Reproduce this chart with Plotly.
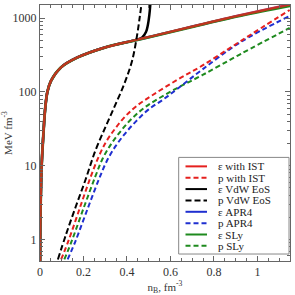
import plotly.graph_objects as go

# ---- data ----
# energy density, with IST / APR4 / SLy (nearly identical)
n_eps = [0.0004, 0.002, 0.0076, 0.016, 0.024, 0.034, 0.05, 0.097, 0.172, 0.298, 0.433, 0.522, 0.701, 0.925, 1.15]
eps_ist = [0.45, 2.0, 9.9, 28, 60, 100, 140, 215, 292, 399, 498, 573, 769, 1097, 1530]
eps_apr4 = [0.45, 2.0, 9.9, 28, 60, 100, 140, 215, 292, 399, 497, 571, 765, 1090, 1510]
eps_sly = [0.45, 2.0, 9.9, 28, 60, 100, 140, 215, 292, 398, 495, 568, 760, 1075, 1460]

# VdW EoS energy density
n_eps_vdw = [0.0004, 0.002, 0.0076, 0.016, 0.024, 0.034, 0.05, 0.097, 0.172, 0.298, 0.433, 0.47, 0.488, 0.496, 0.503, 0.508]
eps_vdw = [0.45, 2.0, 9.9, 28, 60, 100, 140, 215, 292, 399, 498, 545, 650, 800, 1100, 1600]

# pressures
n_p_vdw = [0.0823, 0.1195, 0.1642, 0.2089, 0.2537, 0.2984, 0.3432, 0.3879, 0.4237, 0.4461, 0.4595, 0.4685]
p_vdw = [0.538, 1.17, 2.78, 6.41, 15.7, 32.1, 63.5, 129, 264, 573, 1064, 1694]

n_p_ist = [0.0971, 0.1329, 0.1866, 0.2313, 0.2671, 0.3029, 0.3432, 0.3879, 0.4416, 0.5221, 0.6340, 0.7459, 0.9248, 1.1485]
p_ist = [0.538, 1.0, 2.87, 6.83, 12.7, 20.8, 31.1, 45.2, 63.5, 92.1, 147, 226, 491, 1282]

n_p_apr4 = [0.1271, 0.1642, 0.2224, 0.2716, 0.3074, 0.3477, 0.3924, 0.4416, 0.4998, 0.5669, 0.6340, 0.7459, 0.9248, 1.1485]
p_apr4 = [0.538, 0.970, 2.78, 6.62, 11.6, 18.4, 27.5, 39.9, 57.9, 78.9, 111, 200, 476, 1064]

n_p_sly = [0.1119, 0.1485, 0.2045, 0.2537, 0.2895, 0.3298, 0.3745, 0.4237, 0.4819, 0.5535, 0.6340, 0.7459, 0.9248, 1.1485]
p_sly = [0.538, 1.0, 2.87, 7.04, 12.7, 20.2, 30.2, 43.8, 61.6, 83.9, 114, 168, 328, 734]

x_tickvals = [0, 0.2, 0.4, 0.6, 0.8, 1.0]
x_ticktext = ["0", "0.2", "0.4", "0.6", "0.8", "1"]
y_tickvals = [1, 10, 100, 1000]
y_ticktext = ["1", "10", "100", "1000"]

legend_names = ["\u03b5 with IST", "p with IST", "\u03b5 VdW EoS", "p VdW EoS",
                "\u03b5 APR4", "p APR4", "\u03b5 SLy", "p SLy"]

RED = "#e5201e"
BLACK = "#000000"
BLUE = "#1f2fd0"
GREEN = "#1e8a1e"
legend_colors = [RED, RED, BLACK, BLACK, BLUE, BLUE, GREEN, GREEN]
legend_dashes = ["solid", "5px,3px", "solid", "6px,3px", "solid", "5px,3px", "solid", "5px,3px"]

fig = go.Figure()


def add(x, y, color, dash, width, opacity=1.0):
    fig.add_trace(go.Scatter(x=x, y=y, mode="lines", opacity=opacity,
                             line=dict(color=color, dash=dash, width=width, shape="spline", smoothing=1.0),
                             showlegend=False, hoverinfo="skip"))


add(n_eps_vdw, eps_vdw, BLACK, "solid", 2.5)
add(n_eps, eps_apr4, BLUE, "solid", 2.5)
add(n_eps, eps_sly, GREEN, "solid", 2.8)
add(n_eps, eps_ist, RED, "solid", 2.5, 0.8)
add(n_p_vdw, p_vdw, BLACK, "6px,3px", 2)
add(n_p_sly, p_sly, GREEN, "5px,3px", 2)
add(n_p_apr4, p_apr4, BLUE, "5px,3px", 2)
add(n_p_ist, p_ist, RED, "5px,3px", 2)

# ---- manual legend (paper coordinates) ----
L, R, T, B = 34, 5, 4, 34
W, H = 295, 295
pw, ph = W - L - R, H - T - B


def px2paper_x(px):
    return (px - L) / pw


def px2paper_y(py):
    return (H - B - py) / ph


fig.add_shape(type="rect", xref="paper", yref="paper",
              x0=px2paper_x(176), x1=px2paper_x(289), y0=px2paper_y(254), y1=px2paper_y(157),
              line=dict(color="#888888", width=1), fillcolor="white", layer="above")
for i, (name, col, dsh) in enumerate(zip(legend_names, legend_colors, legend_dashes)):
    yy = px2paper_y(166 + 11.4 * i)
    fig.add_shape(type="line", xref="paper", yref="paper",
                  x0=px2paper_x(183), x1=px2paper_x(205), y0=yy, y1=yy,
                  line=dict(color=col, width=2, dash=dsh), layer="above")
    fig.add_annotation(xref="paper", yref="paper", x=px2paper_x(214), y=yy, text=name,
                       showarrow=False, xanchor="left", yanchor="middle",
                       font=dict(family="Liberation Serif", size=11, color="#222"))

AX = "#666666"
FONT = dict(family="Liberation Serif", size=11, color="#333")
TICKFONT = dict(family="Liberation Serif", size=12, color="#333")
fig.update_layout(width=W, height=H, margin=dict(l=L, r=R, t=T, b=B),
                  paper_bgcolor="white", plot_bgcolor="white", font=FONT)
fig.update_xaxes(range=[0, 1.15], tickmode="array", tickvals=x_tickvals, ticktext=x_ticktext,
                 ticks="inside", ticklen=5, tickcolor=AX, showline=True, linecolor=AX, linewidth=1,
                 mirror="ticks", showgrid=False, zeroline=False, tickfont=TICKFONT,
                 minor=dict(dtick=0.05, ticks="inside", ticklen=3, tickcolor=AX, showgrid=False),
                 title=dict(text="n<sub>B</sub>, fm<sup>-3</sup>", standoff=1, font=FONT))
fig.update_yaxes(type="log", range=[-0.29, 3.176], tickmode="array", tickvals=y_tickvals, ticktext=y_ticktext,
                 ticks="inside", ticklen=5, tickcolor=AX, showline=True, linecolor=AX, linewidth=1,
                 mirror="ticks", showgrid=False, zeroline=False, tickfont=TICKFONT,
                 minor=dict(dtick="D1", ticks="inside", ticklen=3, tickcolor=AX, showgrid=False),
                 title=dict(text="MeV fm<sup>-3</sup>", standoff=1, font=FONT))

fig.write_html("out.html", config={"displayModeBar": False, "staticPlot": True},
               post_script="document.body.style.margin='0';")
